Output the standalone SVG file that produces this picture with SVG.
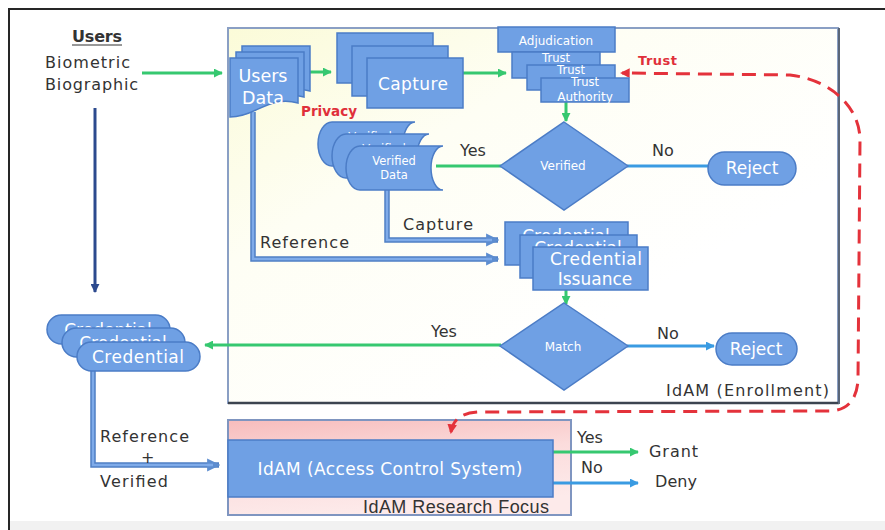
<svg xmlns="http://www.w3.org/2000/svg" width="885" height="530" viewBox="0 0 885 530">
  <defs>
    <style>
      .node { fill: #6fa0e4; stroke: #4b7cc6; stroke-width: 1.5; }
      .wt { font-family: "DejaVu Sans", sans-serif; fill: #ffffff; text-anchor: middle; }
      .lbl { font-family: "DejaVu Sans", sans-serif; font-size: 16px; fill: #333333; }
      .red { font-family: "DejaVu Sans", sans-serif; font-weight: bold; fill: #e0303a; }
      .green { fill: none; stroke: #36c870; stroke-width: 3; }
      .blue { fill: none; stroke: #3a9be2; stroke-width: 3; }
      .pipeOut { fill: none; stroke: #4f7fc4; stroke-width: 5.5; }
      .pipeIn { fill: none; stroke: #7fabe9; stroke-width: 2.5; }
      .dash { fill: none; stroke: #e4323b; stroke-width: 3; stroke-dasharray: 14 8; }
    </style>
    <marker id="ahGreen" viewBox="0 0 10 10" refX="9" refY="5" markerWidth="3" markerHeight="3" orient="auto">
      <path d="M0,0 L10,5 L0,10 Z" fill="#36c870"/>
    </marker>
    <marker id="ahBlue" viewBox="0 0 10 10" refX="9" refY="5" markerWidth="3" markerHeight="3" orient="auto">
      <path d="M0,0 L10,5 L0,10 Z" fill="#3a9be2"/>
    </marker>
    <marker id="ahPipe" viewBox="0 0 10 10" refX="9" refY="5" markerWidth="2.4" markerHeight="2.4" orient="auto">
      <path d="M0,0 L10,5 L0,10 Z" fill="#5d8dd0"/>
    </marker>
    <marker id="ahNavy" viewBox="0 0 10 10" refX="9" refY="5" markerWidth="3" markerHeight="3" orient="auto">
      <path d="M0,0 L10,5 L0,10 Z" fill="#2c4a8e"/>
    </marker>
    <marker id="ahRed" viewBox="0 0 10 10" refX="8" refY="5" markerWidth="3.2" markerHeight="3.2" orient="auto-start-reverse">
      <path d="M0,0 L10,5 L0,10 Z" fill="#e4323b"/>
    </marker>
    <linearGradient id="enrollFill" x1="0" y1="0" x2="0.7" y2="0.7">
      <stop offset="0" stop-color="#fbfbd8"/>
      <stop offset="0.45" stop-color="#fefef4"/>
      <stop offset="1" stop-color="#ffffff"/>
    </linearGradient>
    <linearGradient id="focusFill" x1="0" y1="0" x2="0.3" y2="1">
      <stop offset="0" stop-color="#f7bcbc"/>
      <stop offset="0.5" stop-color="#fbdcdc"/>
      <stop offset="1" stop-color="#fdeaea"/>
    </linearGradient>
  </defs>

  <!-- page -->
  <rect x="0" y="0" width="885" height="530" fill="#ffffff"/>
  <rect x="10" y="521" width="875" height="9" fill="#f1f1f1"/>
  <rect x="9" y="9" width="900" height="540" fill="none" stroke="#262626" stroke-width="2"/>

  <!-- enrollment container -->
  <g id="enrollment">
    <rect x="228" y="28" width="610" height="375" fill="url(#enrollFill)" stroke="#8a9fc4" stroke-width="2"/>
    <line x1="228" y1="403" x2="839" y2="403" stroke="#3c4450" stroke-width="2.5"/>
    <line x1="839" y1="28" x2="839" y2="404" stroke="#5a6678" stroke-width="2"/>
    <text class="lbl" x="666" y="396" font-size="17" textLength="163">IdAM (Enrollment)</text>
  </g>

  <!-- research focus container -->
  <g id="research-focus">
    <rect x="228" y="420" width="343" height="95" fill="url(#focusFill)" stroke="#7f95c0" stroke-width="2"/>
    <text x="363" y="513" font-family="Liberation Sans, Arial, sans-serif" font-size="18" fill="#333333" textLength="186">IdAM Research Focus</text>
  </g>

  <!-- connectors -->
  <g id="connectors">
    <line class="green" x1="142" y1="73" x2="222" y2="73" marker-end="url(#ahGreen)"/>
    <line class="green" x1="310" y1="72" x2="331" y2="72" marker-end="url(#ahGreen)"/>
    <line class="green" x1="463" y1="73" x2="506" y2="73" marker-end="url(#ahGreen)"/>
    <line class="green" x1="566" y1="102" x2="566" y2="121" marker-end="url(#ahGreen)"/>
    <line class="green" x1="436" y1="166" x2="501" y2="166"/>
    <line class="blue" x1="627" y1="166" x2="710" y2="166"/>
    <line class="green" x1="566" y1="290" x2="566" y2="304" marker-end="url(#ahGreen)"/>
    <line class="green" x1="501" y1="345" x2="205" y2="345" marker-end="url(#ahGreen)"/>
    <line class="blue" x1="627" y1="346" x2="714" y2="346" marker-end="url(#ahBlue)"/>
    <line class="green" x1="553" y1="452" x2="638" y2="452" marker-end="url(#ahGreen)"/>
    <line class="blue" x1="553" y1="483" x2="638" y2="483" marker-end="url(#ahBlue)"/>

    <!-- Users to credential (navy) -->
    <line x1="95" y1="108" x2="95" y2="292" stroke="#2c4a8e" stroke-width="3" marker-end="url(#ahNavy)"/>

    <!-- data pipes -->
    <path class="pipeOut" d="M387,188 V240 H498" marker-end="url(#ahPipe)"/>
    <path class="pipeIn" d="M387,188 V240 H492"/>
    <path class="pipeOut" d="M253,112 V259 H498" marker-end="url(#ahPipe)"/>
    <path class="pipeIn" d="M253,112 V259 H492"/>
    <path class="pipeOut" d="M93,368 V465 H219" marker-end="url(#ahPipe)"/>
    <path class="pipeIn" d="M93,368 V465 H213"/>

    <!-- trust feedback loop -->
    <path class="dash" d="M451,432 C453,419 462,413 478,412 L832,411 C850,409 857,397 858,380 L860,140 C860,108 832,80 790,75 L622,73" marker-start="url(#ahRed)" marker-end="url(#ahRed)"/>
  </g>

  <!-- left users text -->
  <g id="users">
    <text class="lbl" x="72" y="42" font-size="16" font-weight="bold" textLength="50">Users</text>
    <line x1="72" y1="45" x2="122" y2="45" stroke="#333333" stroke-width="1.2"/>
    <text class="lbl" x="45" y="68" font-size="16.5" textLength="85">Biometric</text>
    <text class="lbl" x="45" y="90" font-size="16.5" textLength="93">Biographic</text>
  </g>

  <!-- users data documents -->
  <g id="users-data">
    <path class="node" d="M242,46 H310 V91 C293,86 281,92 268,98 C258,103 250,105 242,105 Z"/>
    <path class="node" d="M236,52 H304 V97 C287,92 275,98 262,104 C252,109 244,111 236,111 Z"/>
    <path class="node" d="M230,58 H298 V103 C281,98 269,104 256,110 C246,115 238,117 230,117 Z"/>
    <text class="wt" x="263" y="82" font-size="17.5">Users</text>
    <text class="wt" x="263" y="104" font-size="17.5">Data</text>
  </g>

  <!-- capture stack -->
  <g id="capture">
    <rect class="node" x="337" y="33" width="96" height="50"/>
    <text class="wt" x="385" y="68" font-size="17">Capture</text>
    <rect class="node" x="352" y="46" width="96" height="50"/>
    <text class="wt" x="400" y="80" font-size="17">Capture</text>
    <rect class="node" x="367" y="58" width="96" height="50"/>
    <text class="wt" x="413" y="90" font-size="17" textLength="70">Capture</text>
  </g>

  <!-- adjudication / trust stack -->
  <g id="adjudication">
    <rect class="node" x="498" y="27" width="117" height="25"/>
    <text class="wt" x="556" y="45" font-size="12">Adjudication</text>
    <rect class="node" x="512" y="52" width="88" height="26"/>
    <text class="wt" x="556" y="62" font-size="11.5">Trust</text>
    <rect class="node" x="527" y="65" width="88" height="25"/>
    <text class="wt" x="571" y="74" font-size="11.5">Trust</text>
    <rect class="node" x="541" y="78" width="88" height="24"/>
    <text class="wt" x="585" y="86" font-size="11.5">Trust</text>
    <text class="wt" x="585" y="101" font-size="12">Authority</text>
  </g>

  <text class="red" x="638" y="65" font-size="13" textLength="39">Trust</text>
  <text class="red" x="301" y="116" font-size="13.5" textLength="56">Privacy</text>

  <!-- verified data stored shapes -->
  <g id="verified-data">
    <path class="node" d="M332,122 H415 A12,22 0 0 0 415,166 H332 A14,22 0 0 1 332,122 Z"/>
    <text class="wt" x="370" y="141" font-size="11.5">Verified</text>
    <path class="node" d="M346,134 H429 A12,22 0 0 0 429,178 H346 A14,22 0 0 1 346,134 Z"/>
    <text class="wt" x="384" y="153" font-size="11.5">Verified</text>
    <path class="node" d="M360,146 H443 A12,22 0 0 0 443,190 H360 A14,22 0 0 1 360,146 Z"/>
    <text class="wt" x="394" y="165" font-size="11.5">Verified</text>
    <text class="wt" x="394" y="179" font-size="11.5">Data</text>
  </g>

  <!-- verified decision -->
  <g id="verified">
    <path class="node" d="M564,122 L628,166 L564,210 L500,166 Z"/>
    <text class="wt" x="563" y="170" font-size="12">Verified</text>
  </g>

  <g id="reject-1">
    <rect class="node" x="708" y="152" width="88" height="33" rx="16.5"/>
    <text class="wt" x="752" y="174" font-size="17">Reject</text>
  </g>

  <!-- credential issuance stack -->
  <g id="credential-issuance">
    <rect class="node" x="505" y="222" width="123" height="43"/>
    <text class="wt" x="566" y="242" font-size="17">Credential</text>
    <rect class="node" x="520" y="235" width="117" height="43"/>
    <text class="wt" x="578" y="254" font-size="17">Credential</text>
    <rect class="node" x="533" y="247" width="115" height="43"/>
    <text class="wt" x="596" y="265" font-size="17" textLength="92">Credential</text>
    <text class="wt" x="595" y="285" font-size="17">Issuance</text>
  </g>

  <!-- match decision -->
  <g id="match">
    <path class="node" d="M564,303 L628,346 L564,390 L500,346 Z"/>
    <text class="wt" x="563" y="351" font-size="12">Match</text>
  </g>

  <g id="reject-2">
    <rect class="node" x="716" y="333" width="81" height="32" rx="16"/>
    <text class="wt" x="756" y="355" font-size="17">Reject</text>
  </g>

  <!-- issued credential pills -->
  <g id="credential">
    <rect class="node" x="47" y="315" width="123" height="29" rx="14.5"/>
    <text class="wt" x="108" y="336" font-size="17">Credential</text>
    <rect class="node" x="62" y="328" width="123" height="29" rx="14.5"/>
    <text class="wt" x="123" y="349" font-size="17">Credential</text>
    <rect class="node" x="77" y="342" width="123" height="29" rx="14.5"/>
    <text class="wt" x="138" y="363" font-size="17" textLength="92">Credential</text>
  </g>

  <!-- access control system -->
  <g id="access-control">
    <rect class="node" x="228" y="440" width="325" height="57"/>
    <text class="wt" x="390" y="475" font-size="17" textLength="265">IdAM (Access Control System)</text>
  </g>

  <!-- connector labels -->
  <g id="labels">
    <text class="lbl" x="652" y="156">No</text>
    <text class="lbl" x="460" y="156">Yes</text>
    <text class="lbl" x="403" y="230" textLength="70">Capture</text>
    <text class="lbl" x="260" y="248" textLength="89">Reference</text>
    <text class="lbl" x="431" y="337">Yes</text>
    <text class="lbl" x="657" y="339">No</text>
    <text class="lbl" x="100" y="442" font-size="15" textLength="89">Reference</text>
    <text class="lbl" x="141" y="463" font-size="12">+</text>
    <text class="lbl" x="100" y="487" font-size="15" textLength="68">Verified</text>
    <text class="lbl" x="577" y="443" font-size="15">Yes</text>
    <text class="lbl" x="581" y="473" font-size="15">No</text>
    <text class="lbl" x="649" y="457" textLength="49">Grant</text>
    <text class="lbl" x="655" y="487" textLength="42">Deny</text>
  </g>
</svg>
